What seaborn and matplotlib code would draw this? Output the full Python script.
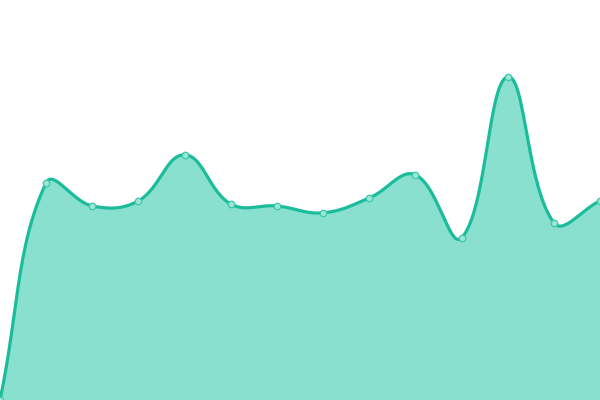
import numpy as np
import pandas as pd
import matplotlib
matplotlib.use("Agg")
import matplotlib.pyplot as plt
import seaborn as sns

# ----------------------------------------
# Data (y axis 0..100, hidden)
# ----------------------------------------
steps = list(range(14))
values = [0, 54.3, 48.5, 49.8, 61.3, 49.0, 48.5, 46.8, 50.5, 56.3, 40.5, 80.8, 44.3, 49.8]

LINE = "#1abc9c"
FILL = "#8ae0cf"
W, H = 600, 400
YMAX = 100


# ----------------------------------------
# Chart.js-like spline (tension 0.4), computed in pixel space
# ----------------------------------------
def smooth(xs, ys, tension=0.4, n=30):
    px = np.array(xs, float) * W / (len(xs) - 1)
    py = np.array(ys, float) * H / YMAX
    pts = np.column_stack([px, py])
    cps = []
    for i in range(len(pts)):
        prev = pts[max(i - 1, 0)]
        cur = pts[i]
        nxt = pts[min(i + 1, len(pts) - 1)]
        d01 = np.hypot(*(cur - prev))
        d12 = np.hypot(*(nxt - cur))
        tot = d01 + d12
        s01 = d01 / tot if tot else 0
        s12 = d12 / tot if tot else 0
        c_prev = cur - tension * s01 * (nxt - prev)
        c_next = cur + tension * s12 * (nxt - prev)
        c_prev = np.clip(c_prev, [0, 0], [W, H])
        c_next = np.clip(c_next, [0, 0], [W, H])
        cps.append((c_prev, c_next))
    out = []
    t = np.linspace(0, 1, n)[:, None]
    for i in range(len(pts) - 1):
        p0, p3 = pts[i], pts[i + 1]
        p1, p2 = cps[i][1], cps[i + 1][0]
        seg = ((1 - t) ** 3) * p0 + 3 * ((1 - t) ** 2) * t * p1 + 3 * (1 - t) * t ** 2 * p2 + t ** 3 * p3
        out.append(seg if i == 0 else seg[1:])
    out = np.vstack(out)
    return out[:, 0] * (len(xs) - 1) / W, out[:, 1] * YMAX / H


sx, sy = smooth(steps, values)
curve = pd.DataFrame({"step": sx, "value": sy})
points = pd.DataFrame({"step": steps, "value": values})

fig = plt.figure(figsize=(6, 4), dpi=100)
ax = fig.add_axes([0, 0, 1, 1])

ax.fill_between(curve["step"], curve["value"], 0, color=FILL, linewidth=0)
sns.lineplot(data=curve, x="step", y="value", ax=ax, color=LINE, linewidth=2.3,
             sort=False, estimator=None)
sns.scatterplot(data=points, x="step", y="value", ax=ax, s=22, color="#9be6d6",
                edgecolor="#3cc8a8", linewidth=0.9, zorder=5)

ax.set_xlim(0, len(steps) - 1)
ax.set_ylim(0, YMAX)
ax.axis("off")

fig.savefig("out.png", dpi=100)
